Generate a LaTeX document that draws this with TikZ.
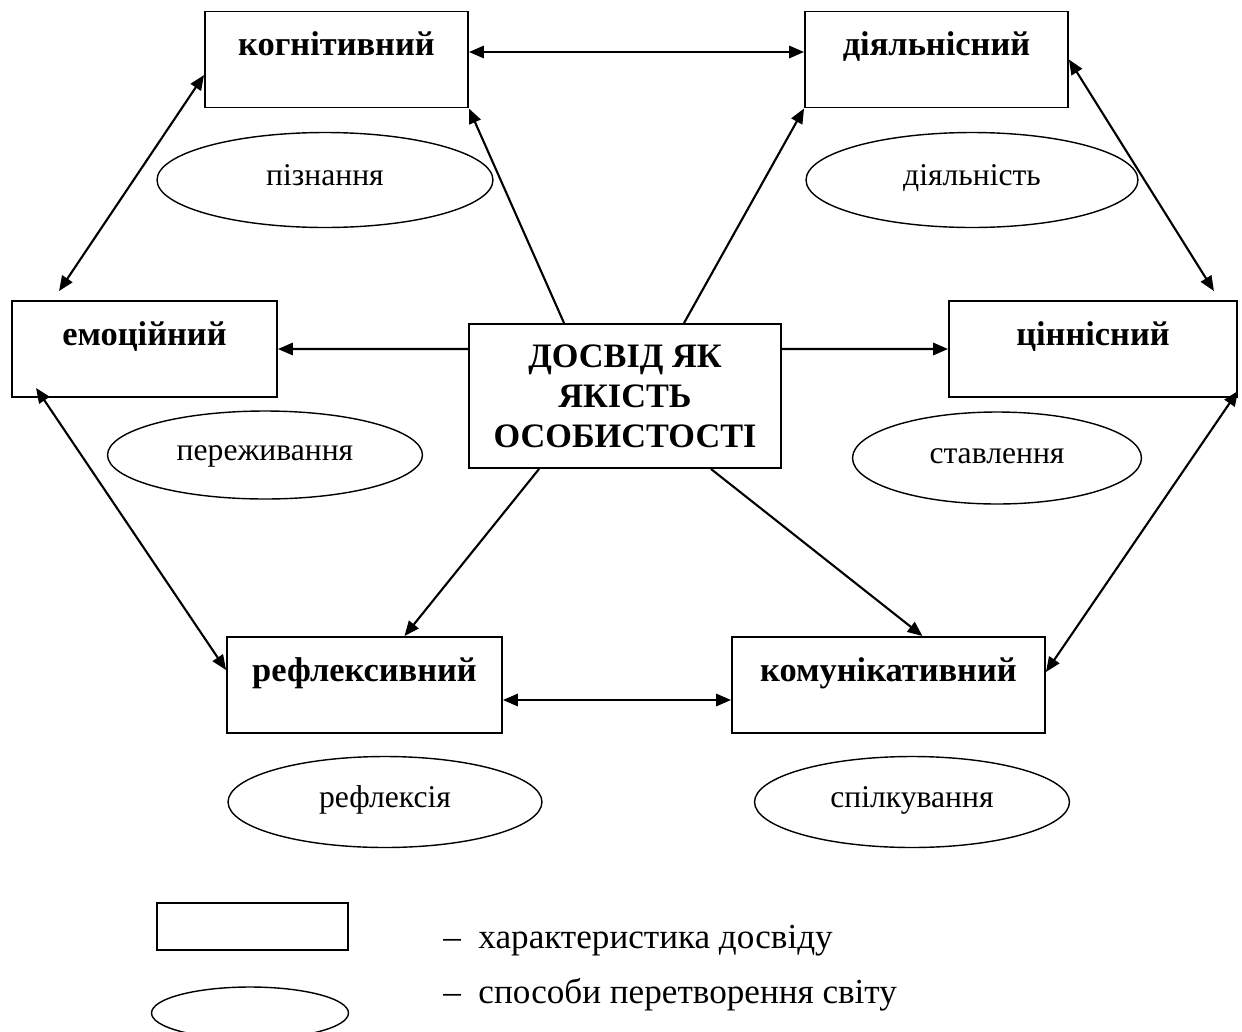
\documentclass[tikz,border=0pt]{standalone}
\usepackage{fontspec}
\setmainfont{Liberation Serif}
\usetikzlibrary{shapes.geometric, arrows.meta}

\begin{document}
\begin{tikzpicture}[x=0.02cm, y=-0.02cm,
  kind/.style={draw, line width=1.1pt, inner sep=0pt, minimum height=1.92cm,
    text height=0.88cm, text depth=1.04cm,
    font=\fontsize{19.6}{23}\selectfont\bfseries},
  core/.style={draw, line width=1.1pt, inner sep=0pt, align=center,
    minimum width=6.24cm, minimum height=2.88cm,
    font=\fontsize{19.5}{22.7}\selectfont\bfseries},
  way/.style={draw, ellipse, line width=0.8pt, inner sep=0pt,
    text height=0.25cm, text depth=0.05cm,
    font=\fontsize{18}{21.6}\selectfont},
  note/.style={anchor=base west, inner sep=0pt,
    font=\fontsize{20}{24}\selectfont},
  arr/.style={-{Triangle[length=8.5pt,width=7pt]}, line width=1.2pt},
  darr/.style={{Triangle[length=8.5pt,width=7pt]}-{Triangle[length=8.5pt,width=7pt]}, line width=1.2pt}]
\useasboundingbox (0,0) rectangle (1242,1032);

% characteristics
\node[kind, minimum width=5.26cm] (kog) at (336.5,59.5) {когнітивний};
\node[kind, minimum width=5.26cm] (diyal) at (936.5,59.5) {діяльнісний};
\node[kind, minimum width=5.30cm] (emo) at (144.5,349) {емоційний};
\node[kind, minimum width=5.76cm] (cin) at (1093,349) {ціннісний};
\node[kind, minimum width=5.50cm] (refl) at (364.5,685) {рефлексивний};
\node[kind, minimum width=6.26cm] (komu) at (888.5,685) {комунікативний};
\node[core] (centre) at (625,396) {ДОСВІД ЯК\\ЯКІСТЬ\\ОСОБИСТОСТІ};

% ways
\node[way, minimum width=6.72cm, minimum height=1.90cm] (piz) at (325,180) {пізнання};
\node[way, minimum width=6.64cm, minimum height=1.90cm] (diyaln) at (972,180) {діяльність};
\node[way, minimum width=6.30cm, minimum height=1.76cm] (perezh) at (265,455) {переживання};
\node[way, minimum width=5.78cm, minimum height=1.84cm] (stav) at (997,458) {ставлення};
\node[way, minimum width=6.28cm, minimum height=1.82cm] (reflx) at (385,802) {рефлексія};
\node[way, minimum width=6.30cm, minimum height=1.82cm] (spilk) at (912,802) {спілкування};

% connectors
\draw[darr] ([yshift=0.15cm]kog.east) -- ([yshift=0.15cm]diyal.west);
\draw[darr] ([xshift=0.96cm,yshift=0.18cm]emo.north west) -- ([yshift=-0.31cm]kog.west);
\draw[darr] (diyal.east) -- ([xshift=-0.48cm,yshift=0.18cm]cin.north east);
\draw[arr] ([xshift=1.92cm]centre.north west) -- (kog.south east);
\draw[arr] ([xshift=4.32cm]centre.north west) -- (diyal.south west);
\draw[arr] ([yshift=0.94cm]centre.west) -- (emo.east);
\draw[arr] ([yshift=0.94cm]centre.east) -- (cin.west);
\draw[darr] ([xshift=0.5cm,yshift=0.2cm]emo.south west) -- ([yshift=0.3cm]refl.west);
\draw[darr] ([yshift=0.14cm]cin.south east) -- ([yshift=0.26cm]komu.east);
\draw[arr] ([xshift=1.42cm]centre.south west) -- ([xshift=0.8cm]refl.north);
\draw[arr] ([xshift=-1.42cm]centre.south east) -- ([xshift=0.68cm]komu.north);
\draw[darr] ([yshift=-0.3cm]refl.east) -- ([yshift=-0.3cm]komu.west);

% legend
\node[draw, line width=1.1pt, inner sep=0pt, minimum width=3.82cm, minimum height=0.94cm] (legbox) at (252.5,926.5) {};
\node[way, minimum width=3.94cm, minimum height=1.04cm] (legoval) at (250,1013) {};
\node[note] (legboxtext) at (443,948) {–~~характеристика досвіду};
\node[note] (legovaltext) at (443,1003) {–~~способи перетворення світу};
\end{tikzpicture}
\end{document}
